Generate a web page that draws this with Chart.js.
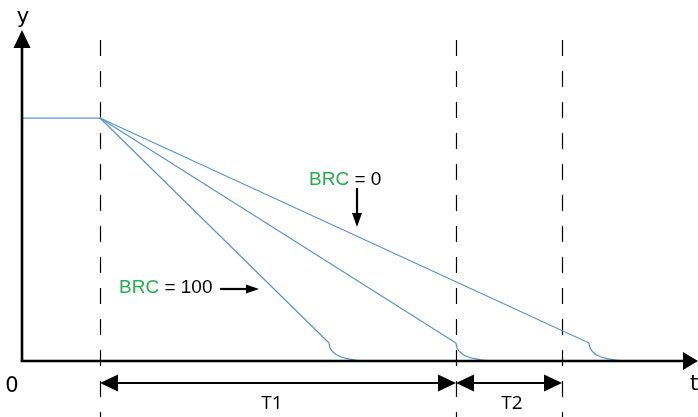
<!DOCTYPE html>
<html>
<head>
<meta charset="utf-8">
<script src="https://cdn.jsdelivr.net/npm/chart.js@4/dist/chart.umd.min.js"></script>
<style>
html,body{margin:0;padding:0;background:#fff;}
#wrap{width:698px;height:417px;position:relative;}
</style>
</head>
<body>
<div id="wrap"><canvas id="c"></canvas></div>
<script>
// ---- data (t = horizontal position, y = level above the t axis) ----
const plateauT = [22, 100];
const plateauY = [243, 243];
const brc100T = [100, 329];
const brc100Y = [243, 18];
const brc100TailT = [329, 329.5, 331, 333, 336, 340, 346, 354, 366];
const brc100TailY = [18, 15, 11.5, 9, 6.5, 4.5, 2.6, 1.1, 0];
const brcMidT = [100, 456];
const brcMidY = [243, 18];
const brcMidTailT = [456, 456.5, 458, 460, 463, 467, 473, 481, 494];
const brcMidTailY = [18, 15, 11.5, 9, 6.5, 4.5, 2.6, 1.1, 0];
const brc0T = [100, 589];
const brc0Y = [243, 18];
const brc0TailT = [589, 589.5, 591, 593, 596, 600, 606, 614, 626];
const brc0TailY = [18, 15, 11.5, 9, 6.5, 4.5, 2.6, 1.1, 0];
const markerT = [100, 456, 562];   // dashed verticals: release, T1 end, T2 end
const periodLabels = ['T1', 'T2'];
const axisLabels = ['y', 't', '0'];
const brcLabels = ['BRC = 100', 'BRC = 0'];

const pts = (xs, ys) => xs.map((x, i) => ({x: x, y: ys[i]}));
const blue = '#5b95d3';
const green = '#27ae4f';

const lineDs = (xs, ys, mono) => ({
  data: pts(xs, ys), showLine: true, borderColor: blue, borderWidth: 1.25,
  pointRadius: 0, fill: false,
  cubicInterpolationMode: mono ? 'monotone' : 'default', tension: 0
});

function arrowHead(ctx, x, y, dir, len, half) {
  ctx.beginPath();
  ctx.moveTo(x, y);
  if (dir === 'up') { ctx.lineTo(x - half, y + len); ctx.lineTo(x + half, y + len); }
  if (dir === 'down') { ctx.lineTo(x - half, y - len); ctx.lineTo(x + half, y - len); }
  if (dir === 'left') { ctx.lineTo(x + len, y - half); ctx.lineTo(x + len, y + half); }
  if (dir === 'right') { ctx.lineTo(x - len, y - half); ctx.lineTo(x - len, y + half); }
  ctx.closePath();
  ctx.fill();
}

const decor = {
  id: 'decor',
  beforeDatasetsDraw(chart) {
    const ctx = chart.ctx, xs = chart.scales.x;
    const X = v => xs.getPixelForValue(v);
    ctx.save();
    ctx.strokeStyle = '#000'; ctx.lineWidth = 1.2; ctx.setLineDash([16, 15]);
    markerT.forEach(t => {
      ctx.beginPath(); ctx.moveTo(Math.round(X(t)) + 0.5, 40); ctx.lineTo(Math.round(X(t)) + 0.5, 417); ctx.stroke();
    });
    ctx.setLineDash([]);
    ctx.restore();
  },
  afterDatasetsDraw(chart) {
    const ctx = chart.ctx, xs = chart.scales.x, ys = chart.scales.y;
    const X = v => xs.getPixelForValue(v), Y = v => ys.getPixelForValue(v);
    const ox = X(22), oy = Y(0);
    ctx.save();
    ctx.fillStyle = '#000'; ctx.strokeStyle = '#000';
    // axes
    ctx.lineWidth = 2.6;
    ctx.beginPath(); ctx.moveTo(ox, oy); ctx.lineTo(ox, 45); ctx.stroke();
    ctx.beginPath(); ctx.moveTo(ox - 1.3, oy); ctx.lineTo(686, oy); ctx.stroke();
    arrowHead(ctx, ox, 30, 'up', 18, 8.5);
    arrowHead(ctx, 698, oy, 'right', 15, 9);
    // dimension arrows
    const dy = 383;
    ctx.lineWidth = 2;
    const dim = (a, b) => {
      ctx.beginPath(); ctx.moveTo(a + 10, dy); ctx.lineTo(b - 10, dy); ctx.stroke();
      arrowHead(ctx, a, dy, 'left', 18, 8.5);
      arrowHead(ctx, b, dy, 'right', 18, 8.5);
    };
    dim(X(markerT[0]), X(markerT[1]));
    dim(X(markerT[1]), X(markerT[2]));
    // small pointer arrows
    ctx.lineWidth = 2.2;
    ctx.beginPath(); ctx.moveTo(220, 289); ctx.lineTo(250, 289); ctx.stroke();
    arrowHead(ctx, 259, 289, 'right', 13, 4.5);
    ctx.beginPath(); ctx.moveTo(357, 188); ctx.lineTo(357, 215); ctx.stroke();
    arrowHead(ctx, 357, 227, 'down', 14, 5);
    // texts
    ctx.textBaseline = 'alphabetic';
    ctx.font = '21px "DejaVu Sans"';
    ctx.textAlign = 'center';
    ctx.fillText(axisLabels[0], 23, 23);
    ctx.fillText(axisLabels[1], 694, 390);
    ctx.fillText(axisLabels[2], 12, 392);
    ctx.font = '19px "Open Sans"';
    ctx.fillText(periodLabels[0], (X(markerT[0]) + X(markerT[1])) / 2 - 6, 409);
    ctx.fillText(periodLabels[1], (X(markerT[1]) + X(markerT[2])) / 2 + 3, 409);
    ctx.textAlign = 'left';
    ctx.font = '19px "Liberation Sans"';
    const brcText = (s, x, y) => {
      const parts = s.split(' = ');
      ctx.fillStyle = green; ctx.fillText(parts[0], x, y);
      const w = ctx.measureText(parts[0]).width;
      ctx.fillStyle = '#000'; ctx.fillText(' = ' + parts[1], x + w, y);
    };
    brcText(brcLabels[0], 119, 293);
    brcText(brcLabels[1], 309, 185);
    ctx.restore();
  }
};

new Chart(document.getElementById('c'), {
  type: 'scatter',
  data: {
    datasets: [
      lineDs(plateauT, plateauY, false),
      lineDs(brc100T, brc100Y, false),
      lineDs(brc100TailT, brc100TailY, true),
      lineDs(brcMidT, brcMidY, false),
      lineDs(brcMidTailT, brcMidTailY, true),
      lineDs(brc0T, brc0Y, false),
      lineDs(brc0TailT, brc0TailY, true)
    ]
  },
  options: {
    responsive: true, maintainAspectRatio: false, animation: false,
    layout: {padding: 0},
    plugins: {legend: {display: false}, tooltip: {enabled: false}},
    scales: {
      x: {type: 'linear', min: 0, max: 698, display: false},
      y: {type: 'linear', min: -56, max: 361, display: false}
    }
  },
  plugins: [decor]
});
</script>
</body>
</html>
